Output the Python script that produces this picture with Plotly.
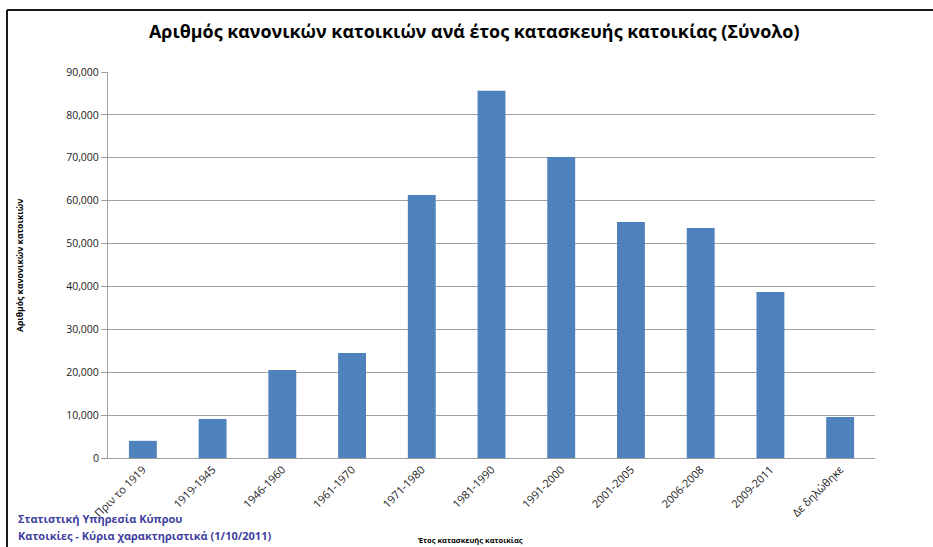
import plotly.graph_objects as go

categories = ["Πριν το 1919", "1919-1945", "1946-1960", "1961-1970", "1971-1980",
              "1981-1990", "1991-2000", "2001-2005", "2006-2008", "2009-2011", "Δε δηλώθηκε"]
values = [4000, 9100, 20500, 24500, 61300, 85600, 70200, 55000, 53600, 38700, 9550]
y_ticks = [0, 10000, 20000, 30000, 40000, 50000, 60000, 70000, 80000, 90000]

title_text = "Αριθμός κανονικών κατοικιών ανά έτος κατασκευής κατοικίας (Σύνολο)"
y_title = "Αριθμός κανονικών κατοικιών"
x_title = "Έτος κατασκευής κατοικίας"
footer1 = "Στατιστική Υπηρεσία Κύπρου"
footer2 = "Κατοικίες - Κύρια χαρακτηριστικά (1/10/2011)"

W, H = 933, 547
L, R, T, B = 108, 875, 72, 458
pw, ph = R - L, B - T

def px(x):
    return (x - L) / pw

def py(y):
    return (B - y) / ph

FONT = "Open Sans"

fig = go.Figure(go.Bar(x=categories, y=values, marker=dict(color="#4f81bd", line=dict(width=0)),
                       width=0.4))

fig.update_layout(
    width=W, height=H,
    margin=dict(l=L, r=W - R, t=T, b=H - B),
    paper_bgcolor="white", plot_bgcolor="white",
    showlegend=False,
    font=dict(family=FONT, color="#000000"),
    bargap=0.6,
)
fig.update_yaxes(
    range=[0, 90000], tickvals=y_ticks, ticktext=[f"{v:,}" for v in y_ticks],
    showgrid=True, gridcolor="#a0a0a0", gridwidth=1,
    showline=True, linecolor="#a0a0a0", linewidth=1,
    ticks="outside", ticklen=6, tickcolor="#a0a0a0",
    tickfont=dict(family=FONT, size=10.5, color="#222222"),
    zeroline=False, fixedrange=True,
)
fig.update_xaxes(
    showgrid=False, showline=True, linecolor="#a0a0a0", linewidth=1,
    ticks="", tickangle=-45,
    tickfont=dict(family=FONT, size=11, color="#222222"),
    fixedrange=True,
)

anns = [
    dict(text="<b>" + title_text + "</b>", xref="paper", yref="paper",
         x=px(474), y=py(31), xanchor="center", yanchor="middle", showarrow=False,
         font=dict(family=FONT, size=17.9, color="#000000")),
    dict(text="<b>" + y_title + "</b>", xref="paper", yref="paper",
         x=px(20), y=py(266), xanchor="center", yanchor="middle", showarrow=False,
         textangle=-90, font=dict(family=FONT, size=8.6, color="#000000")),
    dict(text="<b>" + x_title + "</b>", xref="paper", yref="paper",
         x=px(470), y=py(540), xanchor="center", yanchor="middle", showarrow=False,
         font=dict(family=FONT, size=7.5, color="#000000")),
    dict(text="<b>" + footer1 + "</b>", xref="paper", yref="paper",
         x=px(16), y=py(518), xanchor="left", yanchor="middle", showarrow=False,
         font=dict(family=FONT, size=11, color="#3f3fa0")),
    dict(text="<b>" + footer2 + "</b>", xref="paper", yref="paper",
         x=px(16), y=py(535), xanchor="left", yanchor="middle", showarrow=False,
         font=dict(family=FONT, size=11, color="#3f3fa0")),
]
fig.update_layout(annotations=anns)

shapes = [
    dict(type="line", xref="paper", yref="paper", x0=px(7), x1=px(940), y0=py(10), y1=py(10),
         line=dict(color="#1a1a1a", width=2)),
    dict(type="line", xref="paper", yref="paper", x0=px(7), x1=px(7), y0=py(10), y1=py(560),
         line=dict(color="#1a1a1a", width=2)),
]
fig.update_layout(shapes=shapes)

fig.write_html("out.html", config={"displayModeBar": False})
